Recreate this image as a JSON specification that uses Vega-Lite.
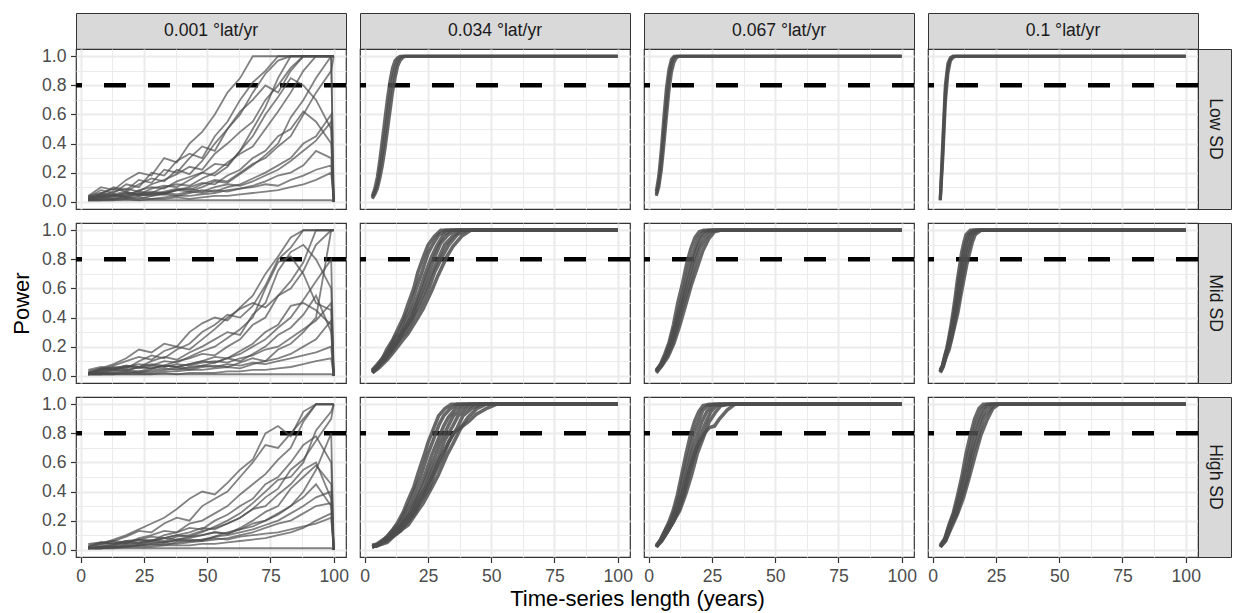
{
"$schema": "https://vega.github.io/schema/vega-lite/v6.json",
"padding": {"left": 9, "top": 12, "right": 0, "bottom": 0},
"background": "white",
"config": {
 "font": "Liberation Sans",
 "view": {"stroke": "#333333", "strokeWidth": 1.2},
 "axis": {"grid": true, "gridColor": "#EBEBEB", "domain": false, "tickColor": "#333333", "tickSize": 5.5, "tickWidth": 1.2, "labelColor": "#4D4D4D", "labelFontSize": 17.6, "labelFont": "Liberation Sans", "labelPadding": 4.5, "labelFlush": false, "labelOverlap": false, "titleFont": "Liberation Sans", "titleFontSize": 22, "titleFontWeight": "normal", "titleColor": "#000000"}
},
"datasets": {
"a1": [
{"g":1,"x":3,"y":0.03},{"g":1,"x":8,"y":0.08},{"g":1,"x":13,"y":0.06},{"g":1,"x":18,"y":0.12},{"g":1,"x":23,"y":0.1},{"g":1,"x":28,"y":0.2},{"g":1,"x":33,"y":0.18},{"g":1,"x":38,"y":0.28},{"g":1,"x":43,"y":0.33},{"g":1,"x":48,"y":0.3},{"g":1,"x":53,"y":0.45},{"g":1,"x":58,"y":0.55},{"g":1,"x":63,"y":0.7},{"g":1,"x":68,"y":0.82},{"g":1,"x":73,"y":0.9},{"g":1,"x":78,"y":1},{"g":1,"x":83,"y":1},{"g":1,"x":88,"y":1},{"g":1,"x":93,"y":1},{"g":1,"x":99,"y":1},{"g":1,"x":100,"y":1},
{"g":2,"x":3,"y":0.02},{"g":2,"x":8,"y":0.05},{"g":2,"x":13,"y":0.1},{"g":2,"x":18,"y":0.08},{"g":2,"x":23,"y":0.15},{"g":2,"x":28,"y":0.13},{"g":2,"x":33,"y":0.22},{"g":2,"x":38,"y":0.2},{"g":2,"x":43,"y":0.3},{"g":2,"x":48,"y":0.38},{"g":2,"x":53,"y":0.35},{"g":2,"x":58,"y":0.5},{"g":2,"x":63,"y":0.6},{"g":2,"x":68,"y":0.75},{"g":2,"x":73,"y":0.88},{"g":2,"x":78,"y":0.97},{"g":2,"x":83,"y":1},{"g":2,"x":88,"y":1},{"g":2,"x":93,"y":1},{"g":2,"x":99,"y":1},{"g":2,"x":100,"y":0},
{"g":3,"x":3,"y":0.03},{"g":3,"x":8,"y":0.04},{"g":3,"x":13,"y":0.07},{"g":3,"x":18,"y":0.09},{"g":3,"x":23,"y":0.07},{"g":3,"x":28,"y":0.12},{"g":3,"x":33,"y":0.15},{"g":3,"x":38,"y":0.19},{"g":3,"x":43,"y":0.24},{"g":3,"x":48,"y":0.22},{"g":3,"x":53,"y":0.33},{"g":3,"x":58,"y":0.4},{"g":3,"x":63,"y":0.48},{"g":3,"x":68,"y":0.55},{"g":3,"x":73,"y":0.7},{"g":3,"x":78,"y":0.8},{"g":3,"x":83,"y":0.92},{"g":3,"x":88,"y":1},{"g":3,"x":93,"y":1},{"g":3,"x":99,"y":1},{"g":3,"x":100,"y":1},
{"g":4,"x":3,"y":0.02},{"g":4,"x":8,"y":0.03},{"g":4,"x":13,"y":0.05},{"g":4,"x":18,"y":0.04},{"g":4,"x":23,"y":0.08},{"g":4,"x":28,"y":0.1},{"g":4,"x":33,"y":0.09},{"g":4,"x":38,"y":0.14},{"g":4,"x":43,"y":0.17},{"g":4,"x":48,"y":0.2},{"g":4,"x":53,"y":0.26},{"g":4,"x":58,"y":0.25},{"g":4,"x":63,"y":0.35},{"g":4,"x":68,"y":0.45},{"g":4,"x":73,"y":0.6},{"g":4,"x":78,"y":0.72},{"g":4,"x":83,"y":0.85},{"g":4,"x":88,"y":0.8},{"g":4,"x":93,"y":0.7},{"g":4,"x":99,"y":0.5},{"g":4,"x":100,"y":0},
{"g":5,"x":3,"y":0.02},{"g":5,"x":8,"y":0.04},{"g":5,"x":13,"y":0.03},{"g":5,"x":18,"y":0.05},{"g":5,"x":23,"y":0.07},{"g":5,"x":28,"y":0.06},{"g":5,"x":33,"y":0.1},{"g":5,"x":38,"y":0.12},{"g":5,"x":43,"y":0.11},{"g":5,"x":48,"y":0.16},{"g":5,"x":53,"y":0.2},{"g":5,"x":58,"y":0.27},{"g":5,"x":63,"y":0.33},{"g":5,"x":68,"y":0.38},{"g":5,"x":73,"y":0.5},{"g":5,"x":78,"y":0.62},{"g":5,"x":83,"y":0.75},{"g":5,"x":88,"y":0.9},{"g":5,"x":93,"y":1},{"g":5,"x":99,"y":1},{"g":5,"x":100,"y":1},
{"g":6,"x":3,"y":0.01},{"g":6,"x":8,"y":0.02},{"g":6,"x":13,"y":0.04},{"g":6,"x":18,"y":0.03},{"g":6,"x":23,"y":0.04},{"g":6,"x":28,"y":0.06},{"g":6,"x":33,"y":0.05},{"g":6,"x":38,"y":0.08},{"g":6,"x":43,"y":0.1},{"g":6,"x":48,"y":0.13},{"g":6,"x":53,"y":0.12},{"g":6,"x":58,"y":0.18},{"g":6,"x":63,"y":0.22},{"g":6,"x":68,"y":0.3},{"g":6,"x":73,"y":0.35},{"g":6,"x":78,"y":0.45},{"g":6,"x":83,"y":0.5},{"g":6,"x":88,"y":0.62},{"g":6,"x":93,"y":0.55},{"g":6,"x":99,"y":0.4},{"g":6,"x":100,"y":0},
{"g":7,"x":3,"y":0.02},{"g":7,"x":8,"y":0.03},{"g":7,"x":13,"y":0.02},{"g":7,"x":18,"y":0.04},{"g":7,"x":23,"y":0.05},{"g":7,"x":28,"y":0.04},{"g":7,"x":33,"y":0.06},{"g":7,"x":38,"y":0.08},{"g":7,"x":43,"y":0.07},{"g":7,"x":48,"y":0.1},{"g":7,"x":53,"y":0.14},{"g":7,"x":58,"y":0.13},{"g":7,"x":63,"y":0.19},{"g":7,"x":68,"y":0.25},{"g":7,"x":73,"y":0.32},{"g":7,"x":78,"y":0.4},{"g":7,"x":83,"y":0.58},{"g":7,"x":88,"y":0.7},{"g":7,"x":93,"y":0.85},{"g":7,"x":99,"y":1},{"g":7,"x":100,"y":1},
{"g":8,"x":3,"y":0.01},{"g":8,"x":8,"y":0.02},{"g":8,"x":13,"y":0.02},{"g":8,"x":18,"y":0.03},{"g":8,"x":23,"y":0.02},{"g":8,"x":28,"y":0.04},{"g":8,"x":33,"y":0.05},{"g":8,"x":38,"y":0.04},{"g":8,"x":43,"y":0.06},{"g":8,"x":48,"y":0.08},{"g":8,"x":53,"y":0.07},{"g":8,"x":58,"y":0.1},{"g":8,"x":63,"y":0.12},{"g":8,"x":68,"y":0.16},{"g":8,"x":73,"y":0.2},{"g":8,"x":78,"y":0.25},{"g":8,"x":83,"y":0.3},{"g":8,"x":88,"y":0.4},{"g":8,"x":93,"y":0.45},{"g":8,"x":99,"y":0.6},{"g":8,"x":100,"y":0},
{"g":9,"x":3,"y":0.01},{"g":9,"x":8,"y":0.01},{"g":9,"x":13,"y":0.02},{"g":9,"x":18,"y":0.02},{"g":9,"x":23,"y":0.03},{"g":9,"x":28,"y":0.02},{"g":9,"x":33,"y":0.03},{"g":9,"x":38,"y":0.04},{"g":9,"x":43,"y":0.04},{"g":9,"x":48,"y":0.05},{"g":9,"x":53,"y":0.06},{"g":9,"x":58,"y":0.08},{"g":9,"x":63,"y":0.09},{"g":9,"x":68,"y":0.11},{"g":9,"x":73,"y":0.14},{"g":9,"x":78,"y":0.18},{"g":9,"x":83,"y":0.2},{"g":9,"x":88,"y":0.25},{"g":9,"x":93,"y":0.35},{"g":9,"x":99,"y":0.3},{"g":9,"x":100,"y":0},
{"g":10,"x":3,"y":0.01},{"g":10,"x":8,"y":0.01},{"g":10,"x":13,"y":0.01},{"g":10,"x":18,"y":0.02},{"g":10,"x":23,"y":0.01},{"g":10,"x":28,"y":0.02},{"g":10,"x":33,"y":0.02},{"g":10,"x":38,"y":0.03},{"g":10,"x":43,"y":0.02},{"g":10,"x":48,"y":0.03},{"g":10,"x":53,"y":0.04},{"g":10,"x":58,"y":0.04},{"g":10,"x":63,"y":0.05},{"g":10,"x":68,"y":0.06},{"g":10,"x":73,"y":0.07},{"g":10,"x":78,"y":0.08},{"g":10,"x":83,"y":0.1},{"g":10,"x":88,"y":0.12},{"g":10,"x":93,"y":0.15},{"g":10,"x":99,"y":0.2},{"g":10,"x":100,"y":0},
{"g":11,"x":3,"y":0.01},{"g":11,"x":8,"y":0.01},{"g":11,"x":13,"y":0.01},{"g":11,"x":18,"y":0.01},{"g":11,"x":23,"y":0.01},{"g":11,"x":28,"y":0.01},{"g":11,"x":33,"y":0.01},{"g":11,"x":38,"y":0.01},{"g":11,"x":43,"y":0.01},{"g":11,"x":48,"y":0.01},{"g":11,"x":53,"y":0.01},{"g":11,"x":58,"y":0.01},{"g":11,"x":63,"y":0.01},{"g":11,"x":68,"y":0.01},{"g":11,"x":73,"y":0.01},{"g":11,"x":78,"y":0.01},{"g":11,"x":83,"y":0.01},{"g":11,"x":88,"y":0.01},{"g":11,"x":93,"y":0.01},{"g":11,"x":99,"y":0.01},{"g":11,"x":100,"y":0},
{"g":12,"x":3,"y":0.04},{"g":12,"x":8,"y":0.1},{"g":12,"x":13,"y":0.08},{"g":12,"x":18,"y":0.15},{"g":12,"x":23,"y":0.2},{"g":12,"x":28,"y":0.18},{"g":12,"x":33,"y":0.3},{"g":12,"x":38,"y":0.27},{"g":12,"x":43,"y":0.4},{"g":12,"x":48,"y":0.48},{"g":12,"x":53,"y":0.6},{"g":12,"x":58,"y":0.75},{"g":12,"x":63,"y":0.85},{"g":12,"x":68,"y":1},{"g":12,"x":73,"y":1},{"g":12,"x":78,"y":1},{"g":12,"x":83,"y":1},{"g":12,"x":88,"y":1},{"g":12,"x":93,"y":1},{"g":12,"x":99,"y":1},{"g":12,"x":100,"y":1},
{"g":13,"x":3,"y":0.02},{"g":13,"x":8,"y":0.06},{"g":13,"x":13,"y":0.09},{"g":13,"x":18,"y":0.07},{"g":13,"x":23,"y":0.12},{"g":13,"x":28,"y":0.16},{"g":13,"x":33,"y":0.14},{"g":13,"x":38,"y":0.22},{"g":13,"x":43,"y":0.19},{"g":13,"x":48,"y":0.28},{"g":13,"x":53,"y":0.4},{"g":13,"x":58,"y":0.5},{"g":13,"x":63,"y":0.62},{"g":13,"x":68,"y":0.7},{"g":13,"x":73,"y":0.8},{"g":13,"x":78,"y":0.75},{"g":13,"x":83,"y":0.9},{"g":13,"x":88,"y":1},{"g":13,"x":93,"y":1},{"g":13,"x":99,"y":1},{"g":13,"x":100,"y":0},
{"g":14,"x":3,"y":0.02},{"g":14,"x":8,"y":0.03},{"g":14,"x":13,"y":0.04},{"g":14,"x":18,"y":0.06},{"g":14,"x":23,"y":0.05},{"g":14,"x":28,"y":0.09},{"g":14,"x":33,"y":0.11},{"g":14,"x":38,"y":0.1},{"g":14,"x":43,"y":0.15},{"g":14,"x":48,"y":0.2},{"g":14,"x":53,"y":0.18},{"g":14,"x":58,"y":0.24},{"g":14,"x":63,"y":0.35},{"g":14,"x":68,"y":0.5},{"g":14,"x":73,"y":0.65},{"g":14,"x":78,"y":0.85},{"g":14,"x":83,"y":1},{"g":14,"x":88,"y":1},{"g":14,"x":93,"y":1},{"g":14,"x":99,"y":1},{"g":14,"x":100,"y":1},
{"g":15,"x":3,"y":0.03},{"g":15,"x":8,"y":0.05},{"g":15,"x":13,"y":0.04},{"g":15,"x":18,"y":0.06},{"g":15,"x":23,"y":0.05},{"g":15,"x":28,"y":0.07},{"g":15,"x":33,"y":0.06},{"g":15,"x":38,"y":0.08},{"g":15,"x":43,"y":0.09},{"g":15,"x":48,"y":0.07},{"g":15,"x":53,"y":0.1},{"g":15,"x":58,"y":0.12},{"g":15,"x":63,"y":0.11},{"g":15,"x":68,"y":0.14},{"g":15,"x":73,"y":0.18},{"g":15,"x":78,"y":0.22},{"g":15,"x":83,"y":0.28},{"g":15,"x":88,"y":0.35},{"g":15,"x":93,"y":0.42},{"g":15,"x":99,"y":0.55},{"g":15,"x":100,"y":0},
{"g":16,"x":3,"y":0.02},{"g":16,"x":8,"y":0.04},{"g":16,"x":13,"y":0.05},{"g":16,"x":18,"y":0.03},{"g":16,"x":23,"y":0.06},{"g":16,"x":28,"y":0.05},{"g":16,"x":33,"y":0.07},{"g":16,"x":38,"y":0.09},{"g":16,"x":43,"y":0.08},{"g":16,"x":48,"y":0.12},{"g":16,"x":53,"y":0.15},{"g":16,"x":58,"y":0.14},{"g":16,"x":63,"y":0.2},{"g":16,"x":68,"y":0.26},{"g":16,"x":73,"y":0.3},{"g":16,"x":78,"y":0.38},{"g":16,"x":83,"y":0.45},{"g":16,"x":88,"y":0.6},{"g":16,"x":93,"y":0.75},{"g":16,"x":99,"y":0.9},{"g":16,"x":100,"y":1},
{"g":17,"x":3,"y":0.04},{"g":17,"x":8,"y":0.06},{"g":17,"x":13,"y":0.05},{"g":17,"x":18,"y":0.07},{"g":17,"x":23,"y":0.04},{"g":17,"x":28,"y":0.05},{"g":17,"x":33,"y":0.06},{"g":17,"x":38,"y":0.05},{"g":17,"x":43,"y":0.07},{"g":17,"x":48,"y":0.06},{"g":17,"x":53,"y":0.08},{"g":17,"x":58,"y":0.07},{"g":17,"x":63,"y":0.09},{"g":17,"x":68,"y":0.1},{"g":17,"x":73,"y":0.12},{"g":17,"x":78,"y":0.11},{"g":17,"x":83,"y":0.15},{"g":17,"x":88,"y":0.18},{"g":17,"x":93,"y":0.22},{"g":17,"x":99,"y":0.25},{"g":17,"x":100,"y":0}
],
"a2": [
{"g":1,"x":3,"y":0.03},{"g":1,"x":4,"y":0.07},{"g":1,"x":5,"y":0.12},{"g":1,"x":6,"y":0.22},{"g":1,"x":7,"y":0.33},{"g":1,"x":8,"y":0.46},{"g":1,"x":9,"y":0.6},{"g":1,"x":10,"y":0.73},{"g":1,"x":11,"y":0.84},{"g":1,"x":12,"y":0.92},{"g":1,"x":13,"y":0.97},{"g":1,"x":14,"y":0.99},{"g":1,"x":15,"y":1},{"g":1,"x":100,"y":1},
{"g":2,"x":3,"y":0.04},{"g":2,"x":4,"y":0.09},{"g":2,"x":5,"y":0.17},{"g":2,"x":6,"y":0.29},{"g":2,"x":7,"y":0.43},{"g":2,"x":8,"y":0.57},{"g":2,"x":9,"y":0.71},{"g":2,"x":10,"y":0.83},{"g":2,"x":11,"y":0.92},{"g":2,"x":12,"y":0.97},{"g":2,"x":13,"y":0.99},{"g":2,"x":14,"y":1},{"g":2,"x":100,"y":1},
{"g":3,"x":3,"y":0.02},{"g":3,"x":4,"y":0.05},{"g":3,"x":5,"y":0.09},{"g":3,"x":6,"y":0.16},{"g":3,"x":7,"y":0.25},{"g":3,"x":8,"y":0.36},{"g":3,"x":9,"y":0.49},{"g":3,"x":10,"y":0.62},{"g":3,"x":11,"y":0.75},{"g":3,"x":12,"y":0.85},{"g":3,"x":13,"y":0.93},{"g":3,"x":14,"y":0.97},{"g":3,"x":15,"y":0.99},{"g":3,"x":16,"y":1},{"g":3,"x":100,"y":1}
],
"a3": [
{"g":1,"x":3,"y":0.05},{"g":1,"x":4,"y":0.13},{"g":1,"x":5,"y":0.28},{"g":1,"x":6,"y":0.48},{"g":1,"x":7,"y":0.68},{"g":1,"x":8,"y":0.85},{"g":1,"x":9,"y":0.95},{"g":1,"x":10,"y":0.99},{"g":1,"x":11,"y":1},{"g":1,"x":100,"y":1},
{"g":2,"x":3,"y":0.07},{"g":2,"x":4,"y":0.18},{"g":2,"x":5,"y":0.36},{"g":2,"x":6,"y":0.58},{"g":2,"x":7,"y":0.78},{"g":2,"x":8,"y":0.91},{"g":2,"x":9,"y":0.98},{"g":2,"x":10,"y":1},{"g":2,"x":100,"y":1},
{"g":3,"x":3,"y":0.04},{"g":3,"x":4,"y":0.1},{"g":3,"x":5,"y":0.22},{"g":3,"x":6,"y":0.39},{"g":3,"x":7,"y":0.58},{"g":3,"x":8,"y":0.76},{"g":3,"x":9,"y":0.89},{"g":3,"x":10,"y":0.96},{"g":3,"x":11,"y":0.99},{"g":3,"x":12,"y":1},{"g":3,"x":100,"y":1}
],
"a4": [
{"g":1,"x":3,"y":0.01},{"g":1,"x":4,"y":0.36},{"g":1,"x":5,"y":0.75},{"g":1,"x":6,"y":0.92},{"g":1,"x":7,"y":0.98},{"g":1,"x":8,"y":1},{"g":1,"x":100,"y":1},
{"g":2,"x":3,"y":0.02},{"g":2,"x":4,"y":0.42},{"g":2,"x":5,"y":0.8},{"g":2,"x":6,"y":0.95},{"g":2,"x":7,"y":0.99},{"g":2,"x":8,"y":1},{"g":2,"x":100,"y":1},
{"g":3,"x":3,"y":0.01},{"g":3,"x":4,"y":0.3},{"g":3,"x":5,"y":0.68},{"g":3,"x":6,"y":0.88},{"g":3,"x":7,"y":0.97},{"g":3,"x":8,"y":0.99},{"g":3,"x":9,"y":1},{"g":3,"x":100,"y":1}
],
"a5": [
{"g":1,"x":3,"y":0.02},{"g":1,"x":8,"y":0.05},{"g":1,"x":13,"y":0.08},{"g":1,"x":18,"y":0.12},{"g":1,"x":23,"y":0.18},{"g":1,"x":28,"y":0.16},{"g":1,"x":33,"y":0.22},{"g":1,"x":38,"y":0.2},{"g":1,"x":43,"y":0.3},{"g":1,"x":48,"y":0.36},{"g":1,"x":53,"y":0.4},{"g":1,"x":58,"y":0.38},{"g":1,"x":63,"y":0.47},{"g":1,"x":68,"y":0.55},{"g":1,"x":73,"y":0.7},{"g":1,"x":78,"y":0.82},{"g":1,"x":83,"y":0.95},{"g":1,"x":88,"y":1},{"g":1,"x":93,"y":1},{"g":1,"x":99,"y":1},{"g":1,"x":100,"y":1},
{"g":2,"x":3,"y":0.02},{"g":2,"x":8,"y":0.04},{"g":2,"x":13,"y":0.06},{"g":2,"x":18,"y":0.05},{"g":2,"x":23,"y":0.1},{"g":2,"x":28,"y":0.14},{"g":2,"x":33,"y":0.12},{"g":2,"x":38,"y":0.18},{"g":2,"x":43,"y":0.22},{"g":2,"x":48,"y":0.3},{"g":2,"x":53,"y":0.35},{"g":2,"x":58,"y":0.42},{"g":2,"x":63,"y":0.4},{"g":2,"x":68,"y":0.48},{"g":2,"x":73,"y":0.62},{"g":2,"x":78,"y":0.8},{"g":2,"x":83,"y":0.88},{"g":2,"x":88,"y":1},{"g":2,"x":93,"y":1},{"g":2,"x":99,"y":1},{"g":2,"x":100,"y":1},
{"g":3,"x":3,"y":0.01},{"g":3,"x":8,"y":0.03},{"g":3,"x":13,"y":0.05},{"g":3,"x":18,"y":0.07},{"g":3,"x":23,"y":0.06},{"g":3,"x":28,"y":0.1},{"g":3,"x":33,"y":0.13},{"g":3,"x":38,"y":0.11},{"g":3,"x":43,"y":0.16},{"g":3,"x":48,"y":0.2},{"g":3,"x":53,"y":0.25},{"g":3,"x":58,"y":0.3},{"g":3,"x":63,"y":0.28},{"g":3,"x":68,"y":0.42},{"g":3,"x":73,"y":0.5},{"g":3,"x":78,"y":0.72},{"g":3,"x":83,"y":0.85},{"g":3,"x":88,"y":0.9},{"g":3,"x":93,"y":0.8},{"g":3,"x":99,"y":0.6},{"g":3,"x":100,"y":0},
{"g":4,"x":3,"y":0.01},{"g":4,"x":8,"y":0.02},{"g":4,"x":13,"y":0.04},{"g":4,"x":18,"y":0.03},{"g":4,"x":23,"y":0.06},{"g":4,"x":28,"y":0.08},{"g":4,"x":33,"y":0.07},{"g":4,"x":38,"y":0.1},{"g":4,"x":43,"y":0.12},{"g":4,"x":48,"y":0.15},{"g":4,"x":53,"y":0.14},{"g":4,"x":58,"y":0.2},{"g":4,"x":63,"y":0.25},{"g":4,"x":68,"y":0.35},{"g":4,"x":73,"y":0.4},{"g":4,"x":78,"y":0.55},{"g":4,"x":83,"y":0.65},{"g":4,"x":88,"y":0.78},{"g":4,"x":93,"y":1},{"g":4,"x":99,"y":1},{"g":4,"x":100,"y":1},
{"g":5,"x":3,"y":0.01},{"g":5,"x":8,"y":0.02},{"g":5,"x":13,"y":0.03},{"g":5,"x":18,"y":0.04},{"g":5,"x":23,"y":0.03},{"g":5,"x":28,"y":0.05},{"g":5,"x":33,"y":0.07},{"g":5,"x":38,"y":0.06},{"g":5,"x":43,"y":0.08},{"g":5,"x":48,"y":0.1},{"g":5,"x":53,"y":0.13},{"g":5,"x":58,"y":0.12},{"g":5,"x":63,"y":0.17},{"g":5,"x":68,"y":0.22},{"g":5,"x":73,"y":0.3},{"g":5,"x":78,"y":0.35},{"g":5,"x":83,"y":0.48},{"g":5,"x":88,"y":0.5},{"g":5,"x":93,"y":0.45},{"g":5,"x":99,"y":0.35},{"g":5,"x":100,"y":0},
{"g":6,"x":3,"y":0.01},{"g":6,"x":8,"y":0.01},{"g":6,"x":13,"y":0.02},{"g":6,"x":18,"y":0.03},{"g":6,"x":23,"y":0.02},{"g":6,"x":28,"y":0.04},{"g":6,"x":33,"y":0.05},{"g":6,"x":38,"y":0.04},{"g":6,"x":43,"y":0.06},{"g":6,"x":48,"y":0.07},{"g":6,"x":53,"y":0.09},{"g":6,"x":58,"y":0.12},{"g":6,"x":63,"y":0.1},{"g":6,"x":68,"y":0.15},{"g":6,"x":73,"y":0.2},{"g":6,"x":78,"y":0.28},{"g":6,"x":83,"y":0.33},{"g":6,"x":88,"y":0.42},{"g":6,"x":93,"y":0.55},{"g":6,"x":99,"y":0.3},{"g":6,"x":100,"y":0},
{"g":7,"x":3,"y":0.01},{"g":7,"x":8,"y":0.02},{"g":7,"x":13,"y":0.02},{"g":7,"x":18,"y":0.02},{"g":7,"x":23,"y":0.03},{"g":7,"x":28,"y":0.03},{"g":7,"x":33,"y":0.04},{"g":7,"x":38,"y":0.05},{"g":7,"x":43,"y":0.04},{"g":7,"x":48,"y":0.06},{"g":7,"x":53,"y":0.07},{"g":7,"x":58,"y":0.06},{"g":7,"x":63,"y":0.09},{"g":7,"x":68,"y":0.12},{"g":7,"x":73,"y":0.1},{"g":7,"x":78,"y":0.18},{"g":7,"x":83,"y":0.22},{"g":7,"x":88,"y":0.3},{"g":7,"x":93,"y":0.4},{"g":7,"x":99,"y":1},{"g":7,"x":100,"y":1},
{"g":8,"x":3,"y":0.01},{"g":8,"x":8,"y":0.01},{"g":8,"x":13,"y":0.01},{"g":8,"x":18,"y":0.02},{"g":8,"x":23,"y":0.02},{"g":8,"x":28,"y":0.02},{"g":8,"x":33,"y":0.03},{"g":8,"x":38,"y":0.03},{"g":8,"x":43,"y":0.04},{"g":8,"x":48,"y":0.04},{"g":8,"x":53,"y":0.05},{"g":8,"x":58,"y":0.06},{"g":8,"x":63,"y":0.05},{"g":8,"x":68,"y":0.08},{"g":8,"x":73,"y":0.1},{"g":8,"x":78,"y":0.12},{"g":8,"x":83,"y":0.15},{"g":8,"x":88,"y":0.2},{"g":8,"x":93,"y":0.25},{"g":8,"x":99,"y":0.38},{"g":8,"x":100,"y":0},
{"g":9,"x":3,"y":0.01},{"g":9,"x":8,"y":0.01},{"g":9,"x":13,"y":0.01},{"g":9,"x":18,"y":0.01},{"g":9,"x":23,"y":0.01},{"g":9,"x":28,"y":0.01},{"g":9,"x":33,"y":0.02},{"g":9,"x":38,"y":0.01},{"g":9,"x":43,"y":0.02},{"g":9,"x":48,"y":0.02},{"g":9,"x":53,"y":0.02},{"g":9,"x":58,"y":0.03},{"g":9,"x":63,"y":0.03},{"g":9,"x":68,"y":0.04},{"g":9,"x":73,"y":0.04},{"g":9,"x":78,"y":0.05},{"g":9,"x":83,"y":0.06},{"g":9,"x":88,"y":0.08},{"g":9,"x":93,"y":0.1},{"g":9,"x":99,"y":0.12},{"g":9,"x":100,"y":0},
{"g":10,"x":3,"y":0.01},{"g":10,"x":8,"y":0.01},{"g":10,"x":13,"y":0.01},{"g":10,"x":18,"y":0.01},{"g":10,"x":23,"y":0.01},{"g":10,"x":28,"y":0.01},{"g":10,"x":33,"y":0.01},{"g":10,"x":38,"y":0.01},{"g":10,"x":43,"y":0.01},{"g":10,"x":48,"y":0.01},{"g":10,"x":53,"y":0.01},{"g":10,"x":58,"y":0.01},{"g":10,"x":63,"y":0.01},{"g":10,"x":68,"y":0.01},{"g":10,"x":73,"y":0.01},{"g":10,"x":78,"y":0.01},{"g":10,"x":83,"y":0.01},{"g":10,"x":88,"y":0.01},{"g":10,"x":93,"y":0.01},{"g":10,"x":99,"y":0.01},{"g":10,"x":100,"y":0},
{"g":11,"x":3,"y":0.02},{"g":11,"x":8,"y":0.04},{"g":11,"x":13,"y":0.07},{"g":11,"x":18,"y":0.1},{"g":11,"x":23,"y":0.13},{"g":11,"x":28,"y":0.11},{"g":11,"x":33,"y":0.17},{"g":11,"x":38,"y":0.2},{"g":11,"x":43,"y":0.18},{"g":11,"x":48,"y":0.25},{"g":11,"x":53,"y":0.32},{"g":11,"x":58,"y":0.4},{"g":11,"x":63,"y":0.46},{"g":11,"x":68,"y":0.5},{"g":11,"x":73,"y":0.47},{"g":11,"x":78,"y":0.55},{"g":11,"x":83,"y":0.6},{"g":11,"x":88,"y":0.72},{"g":11,"x":93,"y":0.9},{"g":11,"x":99,"y":1},{"g":11,"x":100,"y":1},
{"g":12,"x":3,"y":0.01},{"g":12,"x":8,"y":0.03},{"g":12,"x":13,"y":0.04},{"g":12,"x":18,"y":0.06},{"g":12,"x":23,"y":0.08},{"g":12,"x":28,"y":0.07},{"g":12,"x":33,"y":0.1},{"g":12,"x":38,"y":0.09},{"g":12,"x":43,"y":0.13},{"g":12,"x":48,"y":0.17},{"g":12,"x":53,"y":0.2},{"g":12,"x":58,"y":0.26},{"g":12,"x":63,"y":0.32},{"g":12,"x":68,"y":0.4},{"g":12,"x":73,"y":0.6},{"g":12,"x":78,"y":0.78},{"g":12,"x":83,"y":0.82},{"g":12,"x":88,"y":0.7},{"g":12,"x":93,"y":0.5},{"g":12,"x":99,"y":0.45},{"g":12,"x":100,"y":0},
{"g":13,"x":3,"y":0.03},{"g":13,"x":8,"y":0.05},{"g":13,"x":13,"y":0.04},{"g":13,"x":18,"y":0.06},{"g":13,"x":23,"y":0.05},{"g":13,"x":28,"y":0.07},{"g":13,"x":33,"y":0.06},{"g":13,"x":38,"y":0.08},{"g":13,"x":43,"y":0.07},{"g":13,"x":48,"y":0.09},{"g":13,"x":53,"y":0.1},{"g":13,"x":58,"y":0.09},{"g":13,"x":63,"y":0.12},{"g":13,"x":68,"y":0.14},{"g":13,"x":73,"y":0.18},{"g":13,"x":78,"y":0.2},{"g":13,"x":83,"y":0.26},{"g":13,"x":88,"y":0.32},{"g":13,"x":93,"y":0.38},{"g":13,"x":99,"y":0.5},{"g":13,"x":100,"y":0},
{"g":14,"x":3,"y":0.02},{"g":14,"x":8,"y":0.04},{"g":14,"x":13,"y":0.05},{"g":14,"x":18,"y":0.04},{"g":14,"x":23,"y":0.06},{"g":14,"x":28,"y":0.05},{"g":14,"x":33,"y":0.07},{"g":14,"x":38,"y":0.06},{"g":14,"x":43,"y":0.08},{"g":14,"x":48,"y":0.1},{"g":14,"x":53,"y":0.09},{"g":14,"x":58,"y":0.12},{"g":14,"x":63,"y":0.15},{"g":14,"x":68,"y":0.2},{"g":14,"x":73,"y":0.25},{"g":14,"x":78,"y":0.33},{"g":14,"x":83,"y":0.4},{"g":14,"x":88,"y":0.52},{"g":14,"x":93,"y":0.65},{"g":14,"x":99,"y":0.8},{"g":14,"x":100,"y":0},
{"g":15,"x":3,"y":0.04},{"g":15,"x":8,"y":0.06},{"g":15,"x":13,"y":0.05},{"g":15,"x":18,"y":0.07},{"g":15,"x":23,"y":0.06},{"g":15,"x":28,"y":0.05},{"g":15,"x":33,"y":0.07},{"g":15,"x":38,"y":0.06},{"g":15,"x":43,"y":0.05},{"g":15,"x":48,"y":0.07},{"g":15,"x":53,"y":0.06},{"g":15,"x":58,"y":0.08},{"g":15,"x":63,"y":0.07},{"g":15,"x":68,"y":0.09},{"g":15,"x":73,"y":0.08},{"g":15,"x":78,"y":0.1},{"g":15,"x":83,"y":0.12},{"g":15,"x":88,"y":0.14},{"g":15,"x":93,"y":0.16},{"g":15,"x":99,"y":0.2},{"g":15,"x":100,"y":0}
],
"a6": [
{"g":1,"x":3,"y":0.04},{"g":1,"x":4.6,"y":0.07},{"g":1,"x":7.1,"y":0.12},{"g":1,"x":8.7,"y":0.18},{"g":1,"x":11.2,"y":0.25},{"g":1,"x":12.8,"y":0.31},{"g":1,"x":15.3,"y":0.4},{"g":1,"x":16.9,"y":0.48},{"g":1,"x":19.4,"y":0.6},{"g":1,"x":21,"y":0.71},{"g":1,"x":23.5,"y":0.83},{"g":1,"x":25.1,"y":0.9},{"g":1,"x":27.6,"y":0.96},{"g":1,"x":30.1,"y":1},{"g":1,"x":100,"y":1},
{"g":2,"x":3,"y":0.03},{"g":2,"x":4.8,"y":0.06},{"g":2,"x":7.4,"y":0.13},{"g":2,"x":9.2,"y":0.17},{"g":2,"x":11.8,"y":0.26},{"g":2,"x":13.6,"y":0.3},{"g":2,"x":16.2,"y":0.41},{"g":2,"x":18,"y":0.47},{"g":2,"x":20.6,"y":0.61},{"g":2,"x":22.4,"y":0.7},{"g":2,"x":25,"y":0.84},{"g":2,"x":26.8,"y":0.9},{"g":2,"x":29.4,"y":0.97},{"g":2,"x":32,"y":1},{"g":2,"x":100,"y":1},
{"g":3,"x":3,"y":0.03},{"g":3,"x":4.9,"y":0.05},{"g":3,"x":7.7,"y":0.12},{"g":3,"x":9.6,"y":0.16},{"g":3,"x":12.4,"y":0.25},{"g":3,"x":14.3,"y":0.29},{"g":3,"x":17.1,"y":0.4},{"g":3,"x":19,"y":0.46},{"g":3,"x":21.8,"y":0.59},{"g":3,"x":23.7,"y":0.69},{"g":3,"x":26.5,"y":0.82},{"g":3,"x":28.4,"y":0.89},{"g":3,"x":31.2,"y":0.97},{"g":3,"x":34,"y":1},{"g":3,"x":100,"y":1},
{"g":4,"x":3,"y":0.02},{"g":4,"x":5,"y":0.06},{"g":4,"x":8,"y":0.11},{"g":4,"x":10,"y":0.17},{"g":4,"x":13,"y":0.24},{"g":4,"x":15,"y":0.3},{"g":4,"x":18,"y":0.39},{"g":4,"x":20,"y":0.47},{"g":4,"x":23,"y":0.6},{"g":4,"x":25,"y":0.7},{"g":4,"x":28,"y":0.83},{"g":4,"x":30,"y":0.91},{"g":4,"x":33,"y":0.97},{"g":4,"x":36,"y":1},{"g":4,"x":100,"y":1},
{"g":5,"x":3,"y":0.03},{"g":5,"x":5.1,"y":0.06},{"g":5,"x":8.3,"y":0.12},{"g":5,"x":10.4,"y":0.18},{"g":5,"x":13.6,"y":0.25},{"g":5,"x":15.7,"y":0.31},{"g":5,"x":18.9,"y":0.4},{"g":5,"x":21,"y":0.48},{"g":5,"x":24.2,"y":0.6},{"g":5,"x":26.3,"y":0.7},{"g":5,"x":29.5,"y":0.82},{"g":5,"x":31.6,"y":0.9},{"g":5,"x":34.8,"y":0.96},{"g":5,"x":38,"y":1},{"g":5,"x":100,"y":1},
{"g":6,"x":3,"y":0.03},{"g":6,"x":5.2,"y":0.07},{"g":6,"x":8.6,"y":0.12},{"g":6,"x":10.8,"y":0.17},{"g":6,"x":14.2,"y":0.26},{"g":6,"x":16.4,"y":0.3},{"g":6,"x":19.8,"y":0.41},{"g":6,"x":22,"y":0.47},{"g":6,"x":25.4,"y":0.6},{"g":6,"x":27.6,"y":0.71},{"g":6,"x":31,"y":0.83},{"g":6,"x":33.2,"y":0.9},{"g":6,"x":36.6,"y":0.97},{"g":6,"x":40,"y":1},{"g":6,"x":100,"y":1},
{"g":7,"x":3,"y":0.02},{"g":7,"x":5.4,"y":0.05},{"g":7,"x":8.9,"y":0.11},{"g":7,"x":11.3,"y":0.16},{"g":7,"x":14.8,"y":0.24},{"g":7,"x":17.2,"y":0.29},{"g":7,"x":20.7,"y":0.39},{"g":7,"x":23.1,"y":0.46},{"g":7,"x":26.6,"y":0.59},{"g":7,"x":29,"y":0.69},{"g":7,"x":32.5,"y":0.82},{"g":7,"x":34.9,"y":0.89},{"g":7,"x":38.4,"y":0.96},{"g":7,"x":41.9,"y":1},{"g":7,"x":100,"y":1}
],
"a7": [
{"g":1,"x":3,"y":0.03},{"g":1,"x":4.7,"y":0.08},{"g":1,"x":6.4,"y":0.15},{"g":1,"x":8.1,"y":0.23},{"g":1,"x":9.8,"y":0.35},{"g":1,"x":11.5,"y":0.5},{"g":1,"x":13.2,"y":0.62},{"g":1,"x":14.9,"y":0.76},{"g":1,"x":16.6,"y":0.87},{"g":1,"x":18.3,"y":0.95},{"g":1,"x":20,"y":0.99},{"g":1,"x":21.7,"y":1},{"g":1,"x":100,"y":1},
{"g":2,"x":3,"y":0.04},{"g":2,"x":4.9,"y":0.08},{"g":2,"x":6.7,"y":0.14},{"g":2,"x":8.6,"y":0.24},{"g":2,"x":10.4,"y":0.35},{"g":2,"x":12.3,"y":0.48},{"g":2,"x":14.2,"y":0.62},{"g":2,"x":16,"y":0.75},{"g":2,"x":17.9,"y":0.86},{"g":2,"x":19.7,"y":0.95},{"g":2,"x":21.6,"y":0.99},{"g":2,"x":23.5,"y":1},{"g":2,"x":100,"y":1},
{"g":3,"x":3,"y":0.03},{"g":3,"x":5,"y":0.08},{"g":3,"x":7,"y":0.14},{"g":3,"x":9,"y":0.23},{"g":3,"x":11,"y":0.35},{"g":3,"x":13,"y":0.49},{"g":3,"x":15,"y":0.62},{"g":3,"x":17,"y":0.75},{"g":3,"x":19,"y":0.87},{"g":3,"x":21,"y":0.95},{"g":3,"x":23,"y":0.99},{"g":3,"x":25,"y":1},{"g":3,"x":100,"y":1},
{"g":4,"x":3,"y":0.03},{"g":4,"x":5.1,"y":0.07},{"g":4,"x":7.3,"y":0.14},{"g":4,"x":9.4,"y":0.22},{"g":4,"x":11.6,"y":0.35},{"g":4,"x":13.7,"y":0.49},{"g":4,"x":15.8,"y":0.61},{"g":4,"x":18,"y":0.75},{"g":4,"x":20.1,"y":0.87},{"g":4,"x":22.3,"y":0.94},{"g":4,"x":24.4,"y":0.99},{"g":4,"x":26.5,"y":1},{"g":4,"x":100,"y":1},
{"g":5,"x":3,"y":0.02},{"g":5,"x":5.3,"y":0.07},{"g":5,"x":7.6,"y":0.13},{"g":5,"x":9.9,"y":0.22},{"g":5,"x":12.2,"y":0.34},{"g":5,"x":14.5,"y":0.48},{"g":5,"x":16.8,"y":0.62},{"g":5,"x":19.1,"y":0.74},{"g":5,"x":21.4,"y":0.86},{"g":5,"x":23.7,"y":0.94},{"g":5,"x":26,"y":0.99},{"g":5,"x":28.3,"y":1},{"g":5,"x":100,"y":1}
],
"a8": [
{"g":1,"x":3,"y":0.03},{"g":1,"x":3.9,"y":0.07},{"g":1,"x":4.7,"y":0.13},{"g":1,"x":5.6,"y":0.19},{"g":1,"x":6.4,"y":0.26},{"g":1,"x":7.3,"y":0.35},{"g":1,"x":8.1,"y":0.44},{"g":1,"x":9,"y":0.55},{"g":1,"x":9.8,"y":0.66},{"g":1,"x":10.7,"y":0.76},{"g":1,"x":11.5,"y":0.85},{"g":1,"x":12.4,"y":0.92},{"g":1,"x":13.2,"y":0.97},{"g":1,"x":14.9,"y":1},{"g":1,"x":100,"y":1},
{"g":2,"x":3,"y":0.04},{"g":2,"x":3.9,"y":0.07},{"g":2,"x":4.9,"y":0.14},{"g":2,"x":5.8,"y":0.19},{"g":2,"x":6.7,"y":0.27},{"g":2,"x":7.7,"y":0.35},{"g":2,"x":8.6,"y":0.45},{"g":2,"x":9.5,"y":0.55},{"g":2,"x":10.4,"y":0.67},{"g":2,"x":11.4,"y":0.76},{"g":2,"x":12.3,"y":0.86},{"g":2,"x":13.2,"y":0.92},{"g":2,"x":14.2,"y":0.97},{"g":2,"x":16,"y":1},{"g":2,"x":100,"y":1},
{"g":3,"x":3,"y":0.03},{"g":3,"x":4,"y":0.07},{"g":3,"x":5,"y":0.13},{"g":3,"x":6,"y":0.19},{"g":3,"x":7,"y":0.26},{"g":3,"x":8,"y":0.35},{"g":3,"x":9,"y":0.44},{"g":3,"x":10,"y":0.55},{"g":3,"x":11,"y":0.66},{"g":3,"x":12,"y":0.76},{"g":3,"x":13,"y":0.85},{"g":3,"x":14,"y":0.92},{"g":3,"x":15,"y":0.97},{"g":3,"x":17,"y":1},{"g":3,"x":100,"y":1},
{"g":4,"x":3,"y":0.02},{"g":4,"x":4.1,"y":0.06},{"g":4,"x":5.1,"y":0.12},{"g":4,"x":6.2,"y":0.19},{"g":4,"x":7.3,"y":0.25},{"g":4,"x":8.4,"y":0.34},{"g":4,"x":9.4,"y":0.44},{"g":4,"x":10.5,"y":0.54},{"g":4,"x":11.6,"y":0.66},{"g":4,"x":12.6,"y":0.75},{"g":4,"x":13.7,"y":0.85},{"g":4,"x":14.8,"y":0.91},{"g":4,"x":15.8,"y":0.97},{"g":4,"x":18,"y":1},{"g":4,"x":100,"y":1},
{"g":5,"x":3,"y":0.03},{"g":5,"x":4.2,"y":0.07},{"g":5,"x":5.3,"y":0.13},{"g":5,"x":6.5,"y":0.18},{"g":5,"x":7.6,"y":0.26},{"g":5,"x":8.8,"y":0.35},{"g":5,"x":9.9,"y":0.43},{"g":5,"x":11.1,"y":0.55},{"g":5,"x":12.2,"y":0.65},{"g":5,"x":13.4,"y":0.76},{"g":5,"x":14.5,"y":0.84},{"g":5,"x":15.7,"y":0.92},{"g":5,"x":16.8,"y":0.97},{"g":5,"x":19.1,"y":1},{"g":5,"x":100,"y":1}
],
"a9": [
{"g":1,"x":3,"y":0.02},{"g":1,"x":8,"y":0.04},{"g":1,"x":13,"y":0.07},{"g":1,"x":18,"y":0.1},{"g":1,"x":23,"y":0.14},{"g":1,"x":28,"y":0.18},{"g":1,"x":33,"y":0.22},{"g":1,"x":38,"y":0.28},{"g":1,"x":43,"y":0.35},{"g":1,"x":48,"y":0.4},{"g":1,"x":53,"y":0.38},{"g":1,"x":58,"y":0.46},{"g":1,"x":63,"y":0.55},{"g":1,"x":68,"y":0.62},{"g":1,"x":73,"y":0.8},{"g":1,"x":78,"y":0.85},{"g":1,"x":83,"y":0.78},{"g":1,"x":88,"y":0.95},{"g":1,"x":93,"y":1},{"g":1,"x":99,"y":1},{"g":1,"x":100,"y":1},
{"g":2,"x":3,"y":0.02},{"g":2,"x":8,"y":0.05},{"g":2,"x":13,"y":0.06},{"g":2,"x":18,"y":0.09},{"g":2,"x":23,"y":0.13},{"g":2,"x":28,"y":0.12},{"g":2,"x":33,"y":0.18},{"g":2,"x":38,"y":0.22},{"g":2,"x":43,"y":0.2},{"g":2,"x":48,"y":0.3},{"g":2,"x":53,"y":0.35},{"g":2,"x":58,"y":0.4},{"g":2,"x":63,"y":0.5},{"g":2,"x":68,"y":0.6},{"g":2,"x":73,"y":0.72},{"g":2,"x":78,"y":0.7},{"g":2,"x":83,"y":0.8},{"g":2,"x":88,"y":0.9},{"g":2,"x":93,"y":1},{"g":2,"x":99,"y":1},{"g":2,"x":100,"y":1},
{"g":3,"x":3,"y":0.01},{"g":3,"x":8,"y":0.03},{"g":3,"x":13,"y":0.05},{"g":3,"x":18,"y":0.04},{"g":3,"x":23,"y":0.08},{"g":3,"x":28,"y":0.1},{"g":3,"x":33,"y":0.13},{"g":3,"x":38,"y":0.12},{"g":3,"x":43,"y":0.18},{"g":3,"x":48,"y":0.2},{"g":3,"x":53,"y":0.25},{"g":3,"x":58,"y":0.3},{"g":3,"x":63,"y":0.38},{"g":3,"x":68,"y":0.45},{"g":3,"x":73,"y":0.52},{"g":3,"x":78,"y":0.62},{"g":3,"x":83,"y":0.7},{"g":3,"x":88,"y":0.88},{"g":3,"x":93,"y":1},{"g":3,"x":99,"y":1},{"g":3,"x":100,"y":1},
{"g":4,"x":3,"y":0.01},{"g":4,"x":8,"y":0.02},{"g":4,"x":13,"y":0.04},{"g":4,"x":18,"y":0.05},{"g":4,"x":23,"y":0.07},{"g":4,"x":28,"y":0.06},{"g":4,"x":33,"y":0.1},{"g":4,"x":38,"y":0.12},{"g":4,"x":43,"y":0.15},{"g":4,"x":48,"y":0.14},{"g":4,"x":53,"y":0.2},{"g":4,"x":58,"y":0.24},{"g":4,"x":63,"y":0.3},{"g":4,"x":68,"y":0.35},{"g":4,"x":73,"y":0.45},{"g":4,"x":78,"y":0.5},{"g":4,"x":83,"y":0.6},{"g":4,"x":88,"y":0.72},{"g":4,"x":93,"y":0.78},{"g":4,"x":99,"y":0.6},{"g":4,"x":100,"y":0},
{"g":5,"x":3,"y":0.01},{"g":5,"x":8,"y":0.02},{"g":5,"x":13,"y":0.03},{"g":5,"x":18,"y":0.04},{"g":5,"x":23,"y":0.05},{"g":5,"x":28,"y":0.07},{"g":5,"x":33,"y":0.06},{"g":5,"x":38,"y":0.09},{"g":5,"x":43,"y":0.1},{"g":5,"x":48,"y":0.13},{"g":5,"x":53,"y":0.15},{"g":5,"x":58,"y":0.18},{"g":5,"x":63,"y":0.22},{"g":5,"x":68,"y":0.28},{"g":5,"x":73,"y":0.3},{"g":5,"x":78,"y":0.38},{"g":5,"x":83,"y":0.45},{"g":5,"x":88,"y":0.55},{"g":5,"x":93,"y":0.6},{"g":5,"x":99,"y":0.35},{"g":5,"x":100,"y":0},
{"g":6,"x":3,"y":0.01},{"g":6,"x":8,"y":0.01},{"g":6,"x":13,"y":0.02},{"g":6,"x":18,"y":0.03},{"g":6,"x":23,"y":0.03},{"g":6,"x":28,"y":0.04},{"g":6,"x":33,"y":0.05},{"g":6,"x":38,"y":0.06},{"g":6,"x":43,"y":0.07},{"g":6,"x":48,"y":0.06},{"g":6,"x":53,"y":0.09},{"g":6,"x":58,"y":0.12},{"g":6,"x":63,"y":0.14},{"g":6,"x":68,"y":0.18},{"g":6,"x":73,"y":0.2},{"g":6,"x":78,"y":0.25},{"g":6,"x":83,"y":0.3},{"g":6,"x":88,"y":0.4},{"g":6,"x":93,"y":0.55},{"g":6,"x":99,"y":0.8},{"g":6,"x":100,"y":0},
{"g":7,"x":3,"y":0.01},{"g":7,"x":8,"y":0.01},{"g":7,"x":13,"y":0.02},{"g":7,"x":18,"y":0.02},{"g":7,"x":23,"y":0.03},{"g":7,"x":28,"y":0.03},{"g":7,"x":33,"y":0.04},{"g":7,"x":38,"y":0.04},{"g":7,"x":43,"y":0.05},{"g":7,"x":48,"y":0.06},{"g":7,"x":53,"y":0.07},{"g":7,"x":58,"y":0.08},{"g":7,"x":63,"y":0.1},{"g":7,"x":68,"y":0.12},{"g":7,"x":73,"y":0.15},{"g":7,"x":78,"y":0.18},{"g":7,"x":83,"y":0.2},{"g":7,"x":88,"y":0.25},{"g":7,"x":93,"y":0.3},{"g":7,"x":99,"y":0.32},{"g":7,"x":100,"y":0},
{"g":8,"x":3,"y":0.01},{"g":8,"x":8,"y":0.01},{"g":8,"x":13,"y":0.01},{"g":8,"x":18,"y":0.02},{"g":8,"x":23,"y":0.02},{"g":8,"x":28,"y":0.02},{"g":8,"x":33,"y":0.03},{"g":8,"x":38,"y":0.03},{"g":8,"x":43,"y":0.03},{"g":8,"x":48,"y":0.04},{"g":8,"x":53,"y":0.04},{"g":8,"x":58,"y":0.05},{"g":8,"x":63,"y":0.06},{"g":8,"x":68,"y":0.07},{"g":8,"x":73,"y":0.08},{"g":8,"x":78,"y":0.1},{"g":8,"x":83,"y":0.12},{"g":8,"x":88,"y":0.15},{"g":8,"x":93,"y":0.2},{"g":8,"x":99,"y":0.25},{"g":8,"x":100,"y":0},
{"g":9,"x":3,"y":0.01},{"g":9,"x":8,"y":0.01},{"g":9,"x":13,"y":0.01},{"g":9,"x":18,"y":0.01},{"g":9,"x":23,"y":0.01},{"g":9,"x":28,"y":0.01},{"g":9,"x":33,"y":0.01},{"g":9,"x":38,"y":0.01},{"g":9,"x":43,"y":0.01},{"g":9,"x":48,"y":0.01},{"g":9,"x":53,"y":0.01},{"g":9,"x":58,"y":0.01},{"g":9,"x":63,"y":0.01},{"g":9,"x":68,"y":0.01},{"g":9,"x":73,"y":0.01},{"g":9,"x":78,"y":0.01},{"g":9,"x":83,"y":0.01},{"g":9,"x":88,"y":0.01},{"g":9,"x":93,"y":0.01},{"g":9,"x":99,"y":0.01},{"g":9,"x":100,"y":0},
{"g":10,"x":3,"y":0.01},{"g":10,"x":8,"y":0.02},{"g":10,"x":13,"y":0.03},{"g":10,"x":18,"y":0.05},{"g":10,"x":23,"y":0.04},{"g":10,"x":28,"y":0.06},{"g":10,"x":33,"y":0.08},{"g":10,"x":38,"y":0.1},{"g":10,"x":43,"y":0.09},{"g":10,"x":48,"y":0.12},{"g":10,"x":53,"y":0.16},{"g":10,"x":58,"y":0.2},{"g":10,"x":63,"y":0.25},{"g":10,"x":68,"y":0.32},{"g":10,"x":73,"y":0.4},{"g":10,"x":78,"y":0.48},{"g":10,"x":83,"y":0.5},{"g":10,"x":88,"y":0.6},{"g":10,"x":93,"y":0.82},{"g":10,"x":99,"y":0.95},{"g":10,"x":100,"y":1},
{"g":11,"x":3,"y":0.01},{"g":11,"x":8,"y":0.02},{"g":11,"x":13,"y":0.02},{"g":11,"x":18,"y":0.03},{"g":11,"x":23,"y":0.04},{"g":11,"x":28,"y":0.05},{"g":11,"x":33,"y":0.05},{"g":11,"x":38,"y":0.07},{"g":11,"x":43,"y":0.08},{"g":11,"x":48,"y":0.1},{"g":11,"x":53,"y":0.12},{"g":11,"x":58,"y":0.11},{"g":11,"x":63,"y":0.15},{"g":11,"x":68,"y":0.2},{"g":11,"x":73,"y":0.26},{"g":11,"x":78,"y":0.3},{"g":11,"x":83,"y":0.42},{"g":11,"x":88,"y":0.5},{"g":11,"x":93,"y":0.58},{"g":11,"x":99,"y":0.45},{"g":11,"x":100,"y":0},
{"g":12,"x":3,"y":0.01},{"g":12,"x":8,"y":0.01},{"g":12,"x":13,"y":0.02},{"g":12,"x":18,"y":0.02},{"g":12,"x":23,"y":0.03},{"g":12,"x":28,"y":0.04},{"g":12,"x":33,"y":0.03},{"g":12,"x":38,"y":0.05},{"g":12,"x":43,"y":0.06},{"g":12,"x":48,"y":0.07},{"g":12,"x":53,"y":0.09},{"g":12,"x":58,"y":0.1},{"g":12,"x":63,"y":0.12},{"g":12,"x":68,"y":0.14},{"g":12,"x":73,"y":0.17},{"g":12,"x":78,"y":0.2},{"g":12,"x":83,"y":0.25},{"g":12,"x":88,"y":0.3},{"g":12,"x":93,"y":0.36},{"g":12,"x":99,"y":0.4},{"g":12,"x":100,"y":0},
{"g":13,"x":3,"y":0.03},{"g":13,"x":8,"y":0.05},{"g":13,"x":13,"y":0.04},{"g":13,"x":18,"y":0.06},{"g":13,"x":23,"y":0.07},{"g":13,"x":28,"y":0.06},{"g":13,"x":33,"y":0.08},{"g":13,"x":38,"y":0.07},{"g":13,"x":43,"y":0.09},{"g":13,"x":48,"y":0.1},{"g":13,"x":53,"y":0.12},{"g":13,"x":58,"y":0.11},{"g":13,"x":63,"y":0.14},{"g":13,"x":68,"y":0.16},{"g":13,"x":73,"y":0.2},{"g":13,"x":78,"y":0.24},{"g":13,"x":83,"y":0.3},{"g":13,"x":88,"y":0.36},{"g":13,"x":93,"y":0.45},{"g":13,"x":99,"y":0.3},{"g":13,"x":100,"y":0},
{"g":14,"x":3,"y":0.02},{"g":14,"x":8,"y":0.04},{"g":14,"x":13,"y":0.06},{"g":14,"x":18,"y":0.05},{"g":14,"x":23,"y":0.07},{"g":14,"x":28,"y":0.09},{"g":14,"x":33,"y":0.08},{"g":14,"x":38,"y":0.1},{"g":14,"x":43,"y":0.12},{"g":14,"x":48,"y":0.15},{"g":14,"x":53,"y":0.14},{"g":14,"x":58,"y":0.18},{"g":14,"x":63,"y":0.22},{"g":14,"x":68,"y":0.28},{"g":14,"x":73,"y":0.36},{"g":14,"x":78,"y":0.42},{"g":14,"x":83,"y":0.55},{"g":14,"x":88,"y":0.62},{"g":14,"x":93,"y":0.75},{"g":14,"x":99,"y":0.9},{"g":14,"x":100,"y":1},
{"g":15,"x":3,"y":0.04},{"g":15,"x":8,"y":0.05},{"g":15,"x":13,"y":0.04},{"g":15,"x":18,"y":0.06},{"g":15,"x":23,"y":0.05},{"g":15,"x":28,"y":0.06},{"g":15,"x":33,"y":0.05},{"g":15,"x":38,"y":0.07},{"g":15,"x":43,"y":0.06},{"g":15,"x":48,"y":0.07},{"g":15,"x":53,"y":0.08},{"g":15,"x":58,"y":0.07},{"g":15,"x":63,"y":0.09},{"g":15,"x":68,"y":0.1},{"g":15,"x":73,"y":0.11},{"g":15,"x":78,"y":0.12},{"g":15,"x":83,"y":0.14},{"g":15,"x":88,"y":0.16},{"g":15,"x":93,"y":0.18},{"g":15,"x":99,"y":0.22},{"g":15,"x":100,"y":0}
],
"a10": [
{"g":1,"x":3,"y":0.02},{"g":1,"x":4.6,"y":0.03},{"g":1,"x":7.1,"y":0.06},{"g":1,"x":8.7,"y":0.09},{"g":1,"x":11.2,"y":0.14},{"g":1,"x":12.8,"y":0.18},{"g":1,"x":15.3,"y":0.26},{"g":1,"x":16.9,"y":0.33},{"g":1,"x":19.4,"y":0.43},{"g":1,"x":21,"y":0.52},{"g":1,"x":23.5,"y":0.65},{"g":1,"x":25.1,"y":0.74},{"g":1,"x":27.6,"y":0.85},{"g":1,"x":29.2,"y":0.92},{"g":1,"x":31.7,"y":0.97},{"g":1,"x":34.2,"y":1},{"g":1,"x":100,"y":1},
{"g":2,"x":3,"y":0.03},{"g":2,"x":4.8,"y":0.04},{"g":2,"x":7.4,"y":0.07},{"g":2,"x":9.2,"y":0.09},{"g":2,"x":11.8,"y":0.15},{"g":2,"x":13.6,"y":0.18},{"g":2,"x":16.2,"y":0.27},{"g":2,"x":18,"y":0.33},{"g":2,"x":20.6,"y":0.44},{"g":2,"x":22.4,"y":0.52},{"g":2,"x":25,"y":0.66},{"g":2,"x":26.8,"y":0.74},{"g":2,"x":29.4,"y":0.86},{"g":2,"x":31.2,"y":0.92},{"g":2,"x":33.8,"y":0.97},{"g":2,"x":36.4,"y":1},{"g":2,"x":100,"y":1},
{"g":3,"x":3,"y":0.02},{"g":3,"x":4.9,"y":0.03},{"g":3,"x":7.7,"y":0.06},{"g":3,"x":9.6,"y":0.08},{"g":3,"x":12.4,"y":0.14},{"g":3,"x":14.3,"y":0.17},{"g":3,"x":17.1,"y":0.26},{"g":3,"x":19,"y":0.32},{"g":3,"x":21.8,"y":0.43},{"g":3,"x":23.7,"y":0.51},{"g":3,"x":26.5,"y":0.65},{"g":3,"x":28.4,"y":0.73},{"g":3,"x":31.2,"y":0.85},{"g":3,"x":33.1,"y":0.91},{"g":3,"x":35.9,"y":0.97},{"g":3,"x":38.7,"y":1},{"g":3,"x":100,"y":1},
{"g":4,"x":3,"y":0.02},{"g":4,"x":5,"y":0.03},{"g":4,"x":8,"y":0.06},{"g":4,"x":10,"y":0.09},{"g":4,"x":13,"y":0.14},{"g":4,"x":15,"y":0.18},{"g":4,"x":18,"y":0.26},{"g":4,"x":20,"y":0.33},{"g":4,"x":23,"y":0.43},{"g":4,"x":25,"y":0.52},{"g":4,"x":28,"y":0.65},{"g":4,"x":30,"y":0.74},{"g":4,"x":33,"y":0.85},{"g":4,"x":35,"y":0.92},{"g":4,"x":38,"y":0.97},{"g":4,"x":41,"y":1},{"g":4,"x":100,"y":1},
{"g":5,"x":3,"y":0.03},{"g":5,"x":5.1,"y":0.03},{"g":5,"x":8.3,"y":0.07},{"g":5,"x":10.4,"y":0.1},{"g":5,"x":13.6,"y":0.14},{"g":5,"x":15.7,"y":0.19},{"g":5,"x":18.9,"y":0.26},{"g":5,"x":21,"y":0.34},{"g":5,"x":24.2,"y":0.43},{"g":5,"x":26.3,"y":0.53},{"g":5,"x":29.5,"y":0.65},{"g":5,"x":31.6,"y":0.75},{"g":5,"x":34.8,"y":0.85},{"g":5,"x":36.9,"y":0.92},{"g":5,"x":40.1,"y":0.97},{"g":5,"x":43.3,"y":1},{"g":5,"x":100,"y":1},
{"g":6,"x":3,"y":0.02},{"g":6,"x":5.2,"y":0.03},{"g":6,"x":8.6,"y":0.06},{"g":6,"x":10.8,"y":0.09},{"g":6,"x":14.2,"y":0.13},{"g":6,"x":16.4,"y":0.18},{"g":6,"x":19.8,"y":0.25},{"g":6,"x":22,"y":0.33},{"g":6,"x":25.4,"y":0.42},{"g":6,"x":27.6,"y":0.52},{"g":6,"x":31,"y":0.64},{"g":6,"x":33.2,"y":0.74},{"g":6,"x":36.6,"y":0.84},{"g":6,"x":38.8,"y":0.92},{"g":6,"x":42.2,"y":0.97},{"g":6,"x":45.6,"y":1},{"g":6,"x":100,"y":1},
{"g":7,"x":3,"y":0.02},{"g":7,"x":5.4,"y":0.03},{"g":7,"x":8.9,"y":0.05},{"g":7,"x":11.3,"y":0.09},{"g":7,"x":14.8,"y":0.14},{"g":7,"x":17.2,"y":0.17},{"g":7,"x":20.7,"y":0.26},{"g":7,"x":23.1,"y":0.32},{"g":7,"x":26.6,"y":0.43},{"g":7,"x":29,"y":0.51},{"g":7,"x":32.5,"y":0.65},{"g":7,"x":34.9,"y":0.73},{"g":7,"x":38.4,"y":0.85},{"g":7,"x":40.8,"y":0.91},{"g":7,"x":44.3,"y":0.97},{"g":7,"x":47.8,"y":1},{"g":7,"x":100,"y":1},
{"g":8,"x":3,"y":0.02},{"g":8,"x":5,"y":0.03},{"g":8,"x":8,"y":0.06},{"g":8,"x":11,"y":0.1},{"g":8,"x":14,"y":0.15},{"g":8,"x":17,"y":0.2},{"g":8,"x":20,"y":0.28},{"g":8,"x":23,"y":0.37},{"g":8,"x":26,"y":0.48},{"g":8,"x":29,"y":0.6},{"g":8,"x":32,"y":0.7},{"g":8,"x":35,"y":0.8},{"g":8,"x":38,"y":0.84},{"g":8,"x":41,"y":0.88},{"g":8,"x":44,"y":0.93},{"g":8,"x":48,"y":0.97},{"g":8,"x":52,"y":1},{"g":8,"x":100,"y":1}
],
"a11": [
{"g":1,"x":3,"y":0.02},{"g":1,"x":4.7,"y":0.07},{"g":1,"x":6.4,"y":0.13},{"g":1,"x":8,"y":0.19},{"g":1,"x":9.7,"y":0.27},{"g":1,"x":11.4,"y":0.38},{"g":1,"x":13.1,"y":0.52},{"g":1,"x":14.8,"y":0.66},{"g":1,"x":16.4,"y":0.78},{"g":1,"x":18.1,"y":0.88},{"g":1,"x":19.8,"y":0.95},{"g":1,"x":21.5,"y":0.99},{"g":1,"x":24,"y":1},{"g":1,"x":100,"y":1},
{"g":2,"x":3,"y":0.03},{"g":2,"x":4.8,"y":0.07},{"g":2,"x":6.7,"y":0.14},{"g":2,"x":8.5,"y":0.19},{"g":2,"x":10.4,"y":0.28},{"g":2,"x":12.2,"y":0.38},{"g":2,"x":14,"y":0.53},{"g":2,"x":15.9,"y":0.66},{"g":2,"x":17.7,"y":0.79},{"g":2,"x":19.6,"y":0.88},{"g":2,"x":21.4,"y":0.96},{"g":2,"x":23.2,"y":0.99},{"g":2,"x":26,"y":1},{"g":2,"x":100,"y":1},
{"g":3,"x":3,"y":0.02},{"g":3,"x":5,"y":0.07},{"g":3,"x":7,"y":0.13},{"g":3,"x":9,"y":0.19},{"g":3,"x":11,"y":0.27},{"g":3,"x":13,"y":0.38},{"g":3,"x":15,"y":0.52},{"g":3,"x":17,"y":0.66},{"g":3,"x":19,"y":0.78},{"g":3,"x":21,"y":0.88},{"g":3,"x":23,"y":0.95},{"g":3,"x":25,"y":0.99},{"g":3,"x":28,"y":1},{"g":3,"x":100,"y":1},
{"g":4,"x":3,"y":0.02},{"g":4,"x":5.2,"y":0.06},{"g":4,"x":7.3,"y":0.12},{"g":4,"x":9.5,"y":0.19},{"g":4,"x":11.6,"y":0.26},{"g":4,"x":13.8,"y":0.37},{"g":4,"x":16,"y":0.52},{"g":4,"x":18.1,"y":0.65},{"g":4,"x":20.3,"y":0.78},{"g":4,"x":22.4,"y":0.87},{"g":4,"x":24.6,"y":0.95},{"g":4,"x":26.8,"y":0.99},{"g":4,"x":30,"y":1},{"g":4,"x":100,"y":1},
{"g":5,"x":3,"y":0.02},{"g":5,"x":5.3,"y":0.07},{"g":5,"x":7.6,"y":0.13},{"g":5,"x":10,"y":0.2},{"g":5,"x":12.3,"y":0.27},{"g":5,"x":14.6,"y":0.38},{"g":5,"x":16.9,"y":0.51},{"g":5,"x":19.2,"y":0.66},{"g":5,"x":21.6,"y":0.77},{"g":5,"x":23.9,"y":0.88},{"g":5,"x":26.2,"y":0.94},{"g":5,"x":28.5,"y":0.99},{"g":5,"x":32,"y":1},{"g":5,"x":100,"y":1},
{"g":6,"x":3,"y":0.02},{"g":6,"x":5,"y":0.06},{"g":6,"x":8,"y":0.14},{"g":6,"x":10,"y":0.2},{"g":6,"x":12,"y":0.3},{"g":6,"x":14,"y":0.42},{"g":6,"x":16,"y":0.55},{"g":6,"x":18,"y":0.66},{"g":6,"x":20,"y":0.74},{"g":6,"x":22,"y":0.8},{"g":6,"x":24,"y":0.84},{"g":6,"x":26,"y":0.85},{"g":6,"x":28,"y":0.9},{"g":6,"x":31,"y":0.96},{"g":6,"x":34,"y":1},{"g":6,"x":100,"y":1}
],
"a12": [
{"g":1,"x":3,"y":0.02},{"g":1,"x":4.7,"y":0.07},{"g":1,"x":6.4,"y":0.17},{"g":1,"x":8.1,"y":0.25},{"g":1,"x":9.8,"y":0.37},{"g":1,"x":11.5,"y":0.5},{"g":1,"x":13.2,"y":0.66},{"g":1,"x":14.9,"y":0.79},{"g":1,"x":16.6,"y":0.9},{"g":1,"x":18.3,"y":0.97},{"g":1,"x":20,"y":1},{"g":1,"x":100,"y":1},
{"g":2,"x":3,"y":0.03},{"g":2,"x":4.9,"y":0.08},{"g":2,"x":6.7,"y":0.17},{"g":2,"x":8.6,"y":0.26},{"g":2,"x":10.4,"y":0.37},{"g":2,"x":12.3,"y":0.51},{"g":2,"x":14.2,"y":0.66},{"g":2,"x":16,"y":0.8},{"g":2,"x":17.9,"y":0.9},{"g":2,"x":19.7,"y":0.97},{"g":2,"x":21.6,"y":1},{"g":2,"x":100,"y":1},
{"g":3,"x":3,"y":0.02},{"g":3,"x":5,"y":0.07},{"g":3,"x":7,"y":0.16},{"g":3,"x":9,"y":0.25},{"g":3,"x":11,"y":0.36},{"g":3,"x":13,"y":0.5},{"g":3,"x":15,"y":0.65},{"g":3,"x":17,"y":0.79},{"g":3,"x":19,"y":0.9},{"g":3,"x":21,"y":0.97},{"g":3,"x":23,"y":1},{"g":3,"x":100,"y":1},
{"g":4,"x":3,"y":0.02},{"g":4,"x":5.1,"y":0.06},{"g":4,"x":7.3,"y":0.17},{"g":4,"x":9.4,"y":0.24},{"g":4,"x":11.6,"y":0.37},{"g":4,"x":13.7,"y":0.49},{"g":4,"x":15.8,"y":0.66},{"g":4,"x":18,"y":0.78},{"g":4,"x":20.1,"y":0.9},{"g":4,"x":22.3,"y":0.96},{"g":4,"x":24.4,"y":1},{"g":4,"x":100,"y":1},
{"g":5,"x":3,"y":0.02},{"g":5,"x":5.3,"y":0.07},{"g":5,"x":7.6,"y":0.16},{"g":5,"x":9.9,"y":0.25},{"g":5,"x":12.2,"y":0.36},{"g":5,"x":14.5,"y":0.5},{"g":5,"x":16.8,"y":0.65},{"g":5,"x":19.1,"y":0.79},{"g":5,"x":21.4,"y":0.89},{"g":5,"x":23.7,"y":0.97},{"g":5,"x":26,"y":1},{"g":5,"x":100,"y":1}
]
},
"columns": 8,
"align": "each",
"bounds": "flush",
"spacing": 0,
"concat": [
{"width":270,"height":36,"data":{"values":[{"t":"0.001 °lat/yr"}]},"mark":{"type":"text","fontSize":17.6,"color":"#1A1A1A"},"encoding":{"text":{"field":"t"}},"view":{"fill":"#D9D9D9","stroke":"#333333"}},
{"data":{"values":[]},"mark":"point","width":14,"height":14,"view":{"stroke":null}},
{"width":270,"height":36,"data":{"values":[{"t":"0.034 °lat/yr"}]},"mark":{"type":"text","fontSize":17.6,"color":"#1A1A1A"},"encoding":{"text":{"field":"t"}},"view":{"fill":"#D9D9D9","stroke":"#333333"}},
{"data":{"values":[]},"mark":"point","width":14,"height":14,"view":{"stroke":null}},
{"width":270,"height":36,"data":{"values":[{"t":"0.067 °lat/yr"}]},"mark":{"type":"text","fontSize":17.6,"color":"#1A1A1A"},"encoding":{"text":{"field":"t"}},"view":{"fill":"#D9D9D9","stroke":"#333333"}},
{"data":{"values":[]},"mark":"point","width":14,"height":14,"view":{"stroke":null}},
{"width":270,"height":36,"data":{"values":[{"t":"0.1 °lat/yr"}]},"mark":{"type":"text","fontSize":17.6,"color":"#1A1A1A"},"encoding":{"text":{"field":"t"}},"view":{"fill":"#D9D9D9","stroke":"#333333"}},
{"data":{"values":[]},"mark":"point","width":14,"height":14,"view":{"stroke":null}},

{"width":270,"height":160,"encoding":{"y":{"field":"y","type":"quantitative","scale":{"domain":[-0.05,1.05],"nice":false,"zero":false},"axis":{"values":[0,0.1,0.2,0.3,0.4,0.5,0.6,0.7,0.8,0.9,1],"labelExpr":"round(datum.value*10)%2==0 ? format(datum.value,'.1f') : ''","tickOpacity":{"condition":{"test":"round(datum.value*10)%2==1","value":0},"value":1},"gridWidth":{"condition":{"test":"round(datum.value*10)%2==1","value":1},"value":2},"title":null}}},
 "layer":[{"data":{"values":[{"y":0.8}]},"mark":{"type":"rule","color":"#000000","strokeWidth":4.5,"strokeDash":[22,22]},"encoding":{}},
 {"data":{"name":"a1"},"mark":{"type":"line","color":"#4D4D4D","opacity":0.7,"strokeWidth":1.8},"encoding":{"x":{"field":"x","type":"quantitative","scale":{"domain":[-1.85,104.85],"nice":false,"zero":false},"axis":{"values":[0,12.5,25,37.5,50,62.5,75,87.5,100],"labels":false,"ticks":false,"gridWidth":{"condition":{"test":"datum.value%25!=0","value":1},"value":2},"title":null}},"detail":{"field":"g","type":"nominal"}}}]},
{"data":{"values":[]},"mark":"point","width":14,"height":14,"view":{"stroke":null}},
{"width":270,"height":160,"encoding":{"y":{"field":"y","type":"quantitative","scale":{"domain":[-0.05,1.05],"nice":false,"zero":false},"axis":{"values":[0,0.1,0.2,0.3,0.4,0.5,0.6,0.7,0.8,0.9,1],"labels":false,"ticks":false,"gridWidth":{"condition":{"test":"round(datum.value*10)%2==1","value":1},"value":2},"title":null}}},
 "layer":[{"data":{"values":[{"y":0.8}]},"mark":{"type":"rule","color":"#000000","strokeWidth":4.5,"strokeDash":[22,22]},"encoding":{}},
 {"data":{"name":"a2"},"mark":{"type":"line","color":"#4D4D4D","opacity":0.85,"strokeWidth":3.2},"encoding":{"x":{"field":"x","type":"quantitative","scale":{"domain":[-1.85,104.85],"nice":false,"zero":false},"axis":{"values":[0,12.5,25,37.5,50,62.5,75,87.5,100],"labels":false,"ticks":false,"gridWidth":{"condition":{"test":"datum.value%25!=0","value":1},"value":2},"title":null}},"detail":{"field":"g","type":"nominal"}}}]},
{"data":{"values":[]},"mark":"point","width":14,"height":14,"view":{"stroke":null}},
{"width":270,"height":160,"encoding":{"y":{"field":"y","type":"quantitative","scale":{"domain":[-0.05,1.05],"nice":false,"zero":false},"axis":{"values":[0,0.1,0.2,0.3,0.4,0.5,0.6,0.7,0.8,0.9,1],"labels":false,"ticks":false,"gridWidth":{"condition":{"test":"round(datum.value*10)%2==1","value":1},"value":2},"title":null}}},
 "layer":[{"data":{"values":[{"y":0.8}]},"mark":{"type":"rule","color":"#000000","strokeWidth":4.5,"strokeDash":[22,22]},"encoding":{}},
 {"data":{"name":"a3"},"mark":{"type":"line","color":"#4D4D4D","opacity":0.85,"strokeWidth":3.2},"encoding":{"x":{"field":"x","type":"quantitative","scale":{"domain":[-1.85,104.85],"nice":false,"zero":false},"axis":{"values":[0,12.5,25,37.5,50,62.5,75,87.5,100],"labels":false,"ticks":false,"gridWidth":{"condition":{"test":"datum.value%25!=0","value":1},"value":2},"title":null}},"detail":{"field":"g","type":"nominal"}}}]},
{"data":{"values":[]},"mark":"point","width":14,"height":14,"view":{"stroke":null}},
{"width":270,"height":160,"encoding":{"y":{"field":"y","type":"quantitative","scale":{"domain":[-0.05,1.05],"nice":false,"zero":false},"axis":{"values":[0,0.1,0.2,0.3,0.4,0.5,0.6,0.7,0.8,0.9,1],"labels":false,"ticks":false,"gridWidth":{"condition":{"test":"round(datum.value*10)%2==1","value":1},"value":2},"title":null}}},
 "layer":[{"data":{"values":[{"y":0.8}]},"mark":{"type":"rule","color":"#000000","strokeWidth":4.5,"strokeDash":[22,22]},"encoding":{}},
 {"data":{"name":"a4"},"mark":{"type":"line","color":"#4D4D4D","opacity":0.85,"strokeWidth":3.2},"encoding":{"x":{"field":"x","type":"quantitative","scale":{"domain":[-1.85,104.85],"nice":false,"zero":false},"axis":{"values":[0,12.5,25,37.5,50,62.5,75,87.5,100],"labels":false,"ticks":false,"gridWidth":{"condition":{"test":"datum.value%25!=0","value":1},"value":2},"title":null}},"detail":{"field":"g","type":"nominal"}}}]},
{"width":33,"height":160,"data":{"values":[{"t":"Low SD"}]},"mark":{"type":"text","fontSize":17.6,"color":"#1A1A1A","angle":90},"encoding":{"text":{"field":"t"}},"view":{"fill":"#D9D9D9","stroke":"#333333"}},

{"data":{"values":[]},"mark":"point","width":14,"height":14,"view":{"stroke":null}},
{"data":{"values":[]},"mark":"point","width":14,"height":14,"view":{"stroke":null}},
{"data":{"values":[]},"mark":"point","width":14,"height":14,"view":{"stroke":null}},
{"data":{"values":[]},"mark":"point","width":14,"height":14,"view":{"stroke":null}},
{"data":{"values":[]},"mark":"point","width":14,"height":14,"view":{"stroke":null}},
{"data":{"values":[]},"mark":"point","width":14,"height":14,"view":{"stroke":null}},
{"data":{"values":[]},"mark":"point","width":14,"height":14,"view":{"stroke":null}},
{"data":{"values":[]},"mark":"point","width":14,"height":14,"view":{"stroke":null}},

{"width":270,"height":160,"encoding":{"y":{"field":"y","type":"quantitative","scale":{"domain":[-0.05,1.05],"nice":false,"zero":false},"axis":{"values":[0,0.1,0.2,0.3,0.4,0.5,0.6,0.7,0.8,0.9,1],"labelExpr":"round(datum.value*10)%2==0 ? format(datum.value,'.1f') : ''","tickOpacity":{"condition":{"test":"round(datum.value*10)%2==1","value":0},"value":1},"gridWidth":{"condition":{"test":"round(datum.value*10)%2==1","value":1},"value":2},"title":"Power","titlePadding":8}}},
 "layer":[{"data":{"values":[{"y":0.8}]},"mark":{"type":"rule","color":"#000000","strokeWidth":4.5,"strokeDash":[22,22]},"encoding":{}},
 {"data":{"name":"a5"},"mark":{"type":"line","color":"#4D4D4D","opacity":0.7,"strokeWidth":1.8},"encoding":{"x":{"field":"x","type":"quantitative","scale":{"domain":[-1.85,104.85],"nice":false,"zero":false},"axis":{"values":[0,12.5,25,37.5,50,62.5,75,87.5,100],"labels":false,"ticks":false,"gridWidth":{"condition":{"test":"datum.value%25!=0","value":1},"value":2},"title":null}},"detail":{"field":"g","type":"nominal"}}}]},
{"data":{"values":[]},"mark":"point","width":14,"height":14,"view":{"stroke":null}},
{"width":270,"height":160,"encoding":{"y":{"field":"y","type":"quantitative","scale":{"domain":[-0.05,1.05],"nice":false,"zero":false},"axis":{"values":[0,0.1,0.2,0.3,0.4,0.5,0.6,0.7,0.8,0.9,1],"labels":false,"ticks":false,"gridWidth":{"condition":{"test":"round(datum.value*10)%2==1","value":1},"value":2},"title":null}}},
 "layer":[{"data":{"values":[{"y":0.8}]},"mark":{"type":"rule","color":"#000000","strokeWidth":4.5,"strokeDash":[22,22]},"encoding":{}},
 {"data":{"name":"a6"},"mark":{"type":"line","color":"#4D4D4D","opacity":0.85,"strokeWidth":3.6},"encoding":{"x":{"field":"x","type":"quantitative","scale":{"domain":[-1.85,104.85],"nice":false,"zero":false},"axis":{"values":[0,12.5,25,37.5,50,62.5,75,87.5,100],"labels":false,"ticks":false,"gridWidth":{"condition":{"test":"datum.value%25!=0","value":1},"value":2},"title":null}},"detail":{"field":"g","type":"nominal"}}}]},
{"data":{"values":[]},"mark":"point","width":14,"height":14,"view":{"stroke":null}},
{"width":270,"height":160,"encoding":{"y":{"field":"y","type":"quantitative","scale":{"domain":[-0.05,1.05],"nice":false,"zero":false},"axis":{"values":[0,0.1,0.2,0.3,0.4,0.5,0.6,0.7,0.8,0.9,1],"labels":false,"ticks":false,"gridWidth":{"condition":{"test":"round(datum.value*10)%2==1","value":1},"value":2},"title":null}}},
 "layer":[{"data":{"values":[{"y":0.8}]},"mark":{"type":"rule","color":"#000000","strokeWidth":4.5,"strokeDash":[22,22]},"encoding":{}},
 {"data":{"name":"a7"},"mark":{"type":"line","color":"#4D4D4D","opacity":0.85,"strokeWidth":3.6},"encoding":{"x":{"field":"x","type":"quantitative","scale":{"domain":[-1.85,104.85],"nice":false,"zero":false},"axis":{"values":[0,12.5,25,37.5,50,62.5,75,87.5,100],"labels":false,"ticks":false,"gridWidth":{"condition":{"test":"datum.value%25!=0","value":1},"value":2},"title":null}},"detail":{"field":"g","type":"nominal"}}}]},
{"data":{"values":[]},"mark":"point","width":14,"height":14,"view":{"stroke":null}},
{"width":270,"height":160,"encoding":{"y":{"field":"y","type":"quantitative","scale":{"domain":[-0.05,1.05],"nice":false,"zero":false},"axis":{"values":[0,0.1,0.2,0.3,0.4,0.5,0.6,0.7,0.8,0.9,1],"labels":false,"ticks":false,"gridWidth":{"condition":{"test":"round(datum.value*10)%2==1","value":1},"value":2},"title":null}}},
 "layer":[{"data":{"values":[{"y":0.8}]},"mark":{"type":"rule","color":"#000000","strokeWidth":4.5,"strokeDash":[22,22]},"encoding":{}},
 {"data":{"name":"a8"},"mark":{"type":"line","color":"#4D4D4D","opacity":0.85,"strokeWidth":3.6},"encoding":{"x":{"field":"x","type":"quantitative","scale":{"domain":[-1.85,104.85],"nice":false,"zero":false},"axis":{"values":[0,12.5,25,37.5,50,62.5,75,87.5,100],"labels":false,"ticks":false,"gridWidth":{"condition":{"test":"datum.value%25!=0","value":1},"value":2},"title":null}},"detail":{"field":"g","type":"nominal"}}}]},
{"width":33,"height":160,"data":{"values":[{"t":"Mid SD"}]},"mark":{"type":"text","fontSize":17.6,"color":"#1A1A1A","angle":90},"encoding":{"text":{"field":"t"}},"view":{"fill":"#D9D9D9","stroke":"#333333"}},

{"data":{"values":[]},"mark":"point","width":14,"height":14,"view":{"stroke":null}},
{"data":{"values":[]},"mark":"point","width":14,"height":14,"view":{"stroke":null}},
{"data":{"values":[]},"mark":"point","width":14,"height":14,"view":{"stroke":null}},
{"data":{"values":[]},"mark":"point","width":14,"height":14,"view":{"stroke":null}},
{"data":{"values":[]},"mark":"point","width":14,"height":14,"view":{"stroke":null}},
{"data":{"values":[]},"mark":"point","width":14,"height":14,"view":{"stroke":null}},
{"data":{"values":[]},"mark":"point","width":14,"height":14,"view":{"stroke":null}},
{"data":{"values":[]},"mark":"point","width":14,"height":14,"view":{"stroke":null}},

{"width":270,"height":160,"encoding":{"y":{"field":"y","type":"quantitative","scale":{"domain":[-0.05,1.05],"nice":false,"zero":false},"axis":{"values":[0,0.1,0.2,0.3,0.4,0.5,0.6,0.7,0.8,0.9,1],"labelExpr":"round(datum.value*10)%2==0 ? format(datum.value,'.1f') : ''","tickOpacity":{"condition":{"test":"round(datum.value*10)%2==1","value":0},"value":1},"gridWidth":{"condition":{"test":"round(datum.value*10)%2==1","value":1},"value":2},"title":null}}},
 "layer":[{"data":{"values":[{"y":0.8}]},"mark":{"type":"rule","color":"#000000","strokeWidth":4.5,"strokeDash":[22,22]},"encoding":{}},
 {"data":{"name":"a9"},"mark":{"type":"line","color":"#4D4D4D","opacity":0.7,"strokeWidth":1.8},"encoding":{"x":{"field":"x","type":"quantitative","scale":{"domain":[-1.85,104.85],"nice":false,"zero":false},"axis":{"values":[0,12.5,25,37.5,50,62.5,75,87.5,100],"labelExpr":"datum.value%25==0 ? format(datum.value,'d') : ''","tickOpacity":{"condition":{"test":"datum.value%25!=0","value":0},"value":1},"gridWidth":{"condition":{"test":"datum.value%25!=0","value":1},"value":2},"title":null}},"detail":{"field":"g","type":"nominal"}}}]},
{"data":{"values":[]},"mark":"point","width":14,"height":14,"view":{"stroke":null}},
{"width":270,"height":160,"encoding":{"y":{"field":"y","type":"quantitative","scale":{"domain":[-0.05,1.05],"nice":false,"zero":false},"axis":{"values":[0,0.1,0.2,0.3,0.4,0.5,0.6,0.7,0.8,0.9,1],"labels":false,"ticks":false,"gridWidth":{"condition":{"test":"round(datum.value*10)%2==1","value":1},"value":2},"title":null}}},
 "layer":[{"data":{"values":[{"y":0.8}]},"mark":{"type":"rule","color":"#000000","strokeWidth":4.5,"strokeDash":[22,22]},"encoding":{}},
 {"data":{"name":"a10"},"mark":{"type":"line","color":"#4D4D4D","opacity":0.85,"strokeWidth":3.6},"encoding":{"x":{"field":"x","type":"quantitative","scale":{"domain":[-1.85,104.85],"nice":false,"zero":false},"axis":{"values":[0,12.5,25,37.5,50,62.5,75,87.5,100],"labelExpr":"datum.value%25==0 ? format(datum.value,'d') : ''","tickOpacity":{"condition":{"test":"datum.value%25!=0","value":0},"value":1},"gridWidth":{"condition":{"test":"datum.value%25!=0","value":1},"value":2},"title":"Time-series length (years)","titleX":277,"titlePadding":4}},"detail":{"field":"g","type":"nominal"}}}]},
{"data":{"values":[]},"mark":"point","width":14,"height":14,"view":{"stroke":null}},
{"width":270,"height":160,"encoding":{"y":{"field":"y","type":"quantitative","scale":{"domain":[-0.05,1.05],"nice":false,"zero":false},"axis":{"values":[0,0.1,0.2,0.3,0.4,0.5,0.6,0.7,0.8,0.9,1],"labels":false,"ticks":false,"gridWidth":{"condition":{"test":"round(datum.value*10)%2==1","value":1},"value":2},"title":null}}},
 "layer":[{"data":{"values":[{"y":0.8}]},"mark":{"type":"rule","color":"#000000","strokeWidth":4.5,"strokeDash":[22,22]},"encoding":{}},
 {"data":{"name":"a11"},"mark":{"type":"line","color":"#4D4D4D","opacity":0.85,"strokeWidth":3.6},"encoding":{"x":{"field":"x","type":"quantitative","scale":{"domain":[-1.85,104.85],"nice":false,"zero":false},"axis":{"values":[0,12.5,25,37.5,50,62.5,75,87.5,100],"labelExpr":"datum.value%25==0 ? format(datum.value,'d') : ''","tickOpacity":{"condition":{"test":"datum.value%25!=0","value":0},"value":1},"gridWidth":{"condition":{"test":"datum.value%25!=0","value":1},"value":2},"title":null}},"detail":{"field":"g","type":"nominal"}}}]},
{"data":{"values":[]},"mark":"point","width":14,"height":14,"view":{"stroke":null}},
{"width":270,"height":160,"encoding":{"y":{"field":"y","type":"quantitative","scale":{"domain":[-0.05,1.05],"nice":false,"zero":false},"axis":{"values":[0,0.1,0.2,0.3,0.4,0.5,0.6,0.7,0.8,0.9,1],"labels":false,"ticks":false,"gridWidth":{"condition":{"test":"round(datum.value*10)%2==1","value":1},"value":2},"title":null}}},
 "layer":[{"data":{"values":[{"y":0.8}]},"mark":{"type":"rule","color":"#000000","strokeWidth":4.5,"strokeDash":[22,22]},"encoding":{}},
 {"data":{"name":"a12"},"mark":{"type":"line","color":"#4D4D4D","opacity":0.85,"strokeWidth":3.6},"encoding":{"x":{"field":"x","type":"quantitative","scale":{"domain":[-1.85,104.85],"nice":false,"zero":false},"axis":{"values":[0,12.5,25,37.5,50,62.5,75,87.5,100],"labelExpr":"datum.value%25==0 ? format(datum.value,'d') : ''","tickOpacity":{"condition":{"test":"datum.value%25!=0","value":0},"value":1},"gridWidth":{"condition":{"test":"datum.value%25!=0","value":1},"value":2},"title":null}},"detail":{"field":"g","type":"nominal"}}}]},
{"width":33,"height":160,"data":{"values":[{"t":"High SD"}]},"mark":{"type":"text","fontSize":17.6,"color":"#1A1A1A","angle":90},"encoding":{"text":{"field":"t"}},"view":{"fill":"#D9D9D9","stroke":"#333333"}}
]
}
